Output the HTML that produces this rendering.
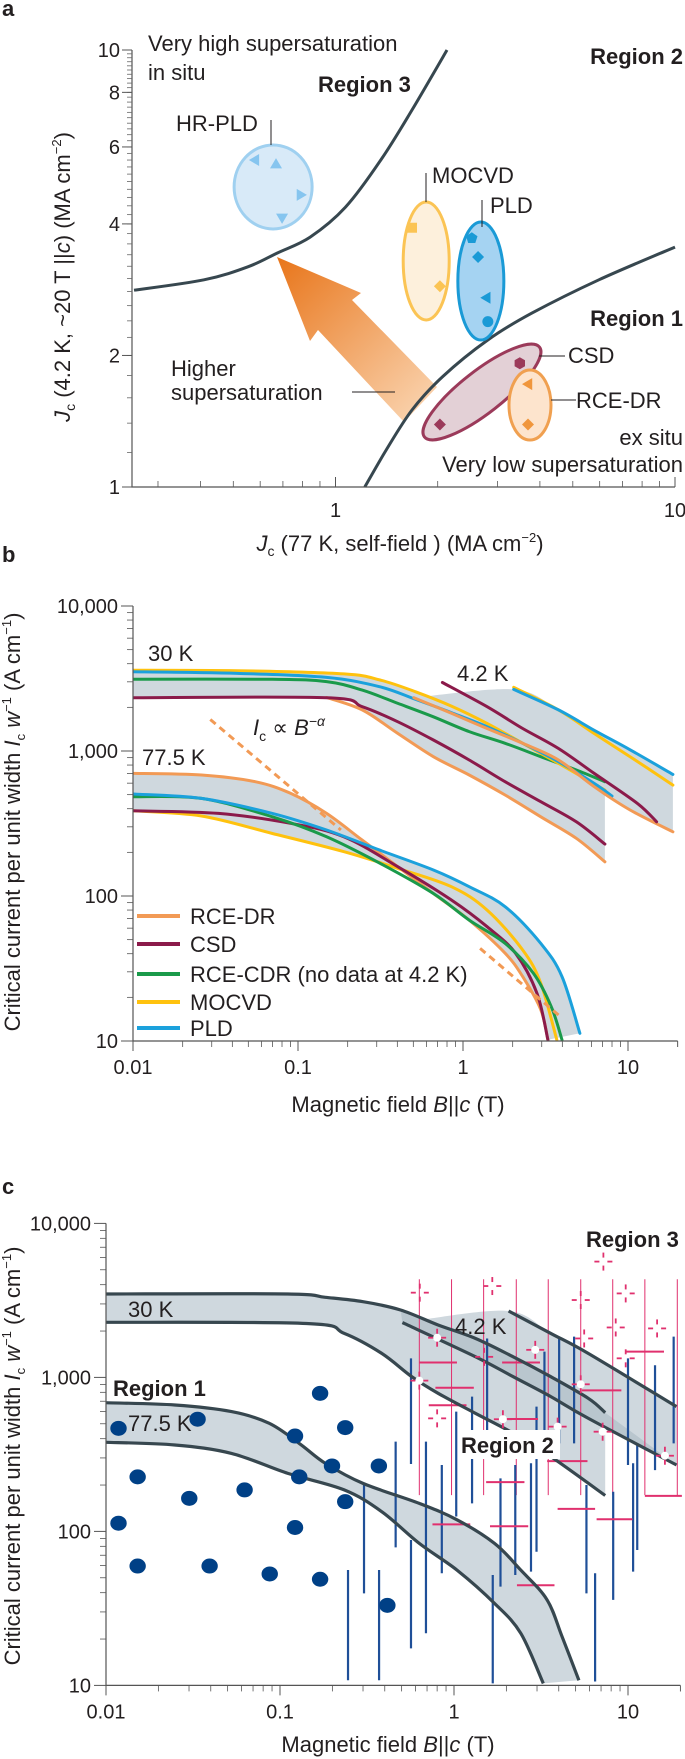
<!DOCTYPE html>
<html><head><meta charset="utf-8"><style>
html,body{margin:0;padding:0;background:#fff;}
svg{display:block;font-family:"Liberation Sans",sans-serif;}
.t{font-size:22px;fill:#231f20;}
.tk{font-size:20px;fill:#231f20;}
.bd{font-weight:bold;}
</style></head><body>
<svg id="fig" width="685" height="1759" viewBox="0 0 685 1759" xmlns="http://www.w3.org/2000/svg">
<defs>
<linearGradient id="arrowGrad" x1="277" y1="257" x2="420" y2="405" gradientUnits="userSpaceOnUse">
<stop offset="0" stop-color="#e8751a"/><stop offset="1" stop-color="#f9cfa8"/></linearGradient>
<clipPath id="clipB"><rect x="133" y="590" width="552" height="451"/></clipPath>
<clipPath id="clipC"><rect x="106" y="1200" width="579" height="486"/></clipPath>
</defs>
<!-- panel labels -->
<text x="2" y="16" class="t bd">a</text>
<text x="2" y="562" class="t bd">b</text>
<text x="2" y="1194" class="t bd">c</text>

<g id="pa"></g>
<g id="pb"></g>
<g id="pc"></g>

<!-- panel a text -->
<text x="148" y="51" class="t">Very high supersaturation</text>
<text x="148" y="80" class="t">in situ</text>
<text x="318" y="92" class="t bd">Region 3</text>
<text x="683" y="64" class="t bd" text-anchor="end">Region 2</text>
<text x="683" y="326" class="t bd" text-anchor="end">Region 1</text>
<text x="176" y="131" class="t">HR-PLD</text>
<text x="432" y="183" class="t">MOCVD</text>
<text x="490" y="213" class="t">PLD</text>
<text x="568" y="363" class="t">CSD</text>
<text x="576" y="408" class="t">RCE-DR</text>
<text x="171" y="376" class="t">Higher</text>
<text x="171" y="400" class="t">supersaturation</text>
<text x="683" y="445" class="t" text-anchor="end">ex situ</text>
<text x="683" y="472" class="t" text-anchor="end">Very low supersaturation</text>
<text x="400" y="551" class="t" text-anchor="middle"><tspan font-style="italic">J</tspan><tspan font-size="14" dy="5">c</tspan><tspan dy="-5"> (77 K, self-field ) (MA cm</tspan><tspan font-size="13" dy="-9">−2</tspan><tspan dy="9">)</tspan></text>
<text transform="translate(70,277) rotate(-90)" class="t" text-anchor="middle"><tspan font-style="italic">J</tspan><tspan font-size="14" dy="5">c</tspan><tspan dy="-5"> (4.2 K, ~20 T ||</tspan><tspan font-style="italic">c</tspan><tspan>) (MA cm</tspan><tspan font-size="13" dy="-9">−2</tspan><tspan dy="9">)</tspan></text>

<!-- panel b text -->
<text x="148" y="661" class="t">30 K</text>
<text x="457" y="681" class="t">4.2 K</text>
<text x="142" y="765" class="t">77.5 K</text>
<text x="253" y="735" class="t" font-style="italic">I<tspan font-size="14" dy="6" font-style="normal">c</tspan><tspan dy="-6" font-style="normal"> ∝ </tspan>B<tspan font-size="14" dy="-9">−α</tspan></text>
<text x="398" y="1112" class="t" text-anchor="middle">Magnetic field <tspan font-style="italic">B</tspan>||<tspan font-style="italic">c</tspan> (T)</text>
<text transform="translate(20,822) rotate(-90)" class="t" font-size="21" text-anchor="middle">Critical current per unit width <tspan font-style="italic">I</tspan><tspan font-size="13" dy="5">c</tspan><tspan dy="-5"> </tspan><tspan font-style="italic">w</tspan><tspan font-size="13" dy="-9">−1</tspan><tspan dy="9"> (A cm</tspan><tspan font-size="13" dy="-9">−1</tspan><tspan dy="9">)</tspan></text>

<!-- panel c text -->
<text x="388" y="1752" class="t" text-anchor="middle">Magnetic field <tspan font-style="italic">B</tspan>||<tspan font-style="italic">c</tspan> (T)</text>
<text transform="translate(20,1456) rotate(-90)" class="t" font-size="21" text-anchor="middle">Critical current per unit width <tspan font-style="italic">I</tspan><tspan font-size="13" dy="5">c</tspan><tspan dy="-5"> </tspan><tspan font-style="italic">w</tspan><tspan font-size="13" dy="-9">−1</tspan><tspan dy="9"> (A cm</tspan><tspan font-size="13" dy="-9">−1</tspan><tspan dy="9">)</tspan></text>
<g id="pctext"></g>
</svg>
<script>
// ---------- Panel a data ----------
const aRegion3Curve = [[0.255,2.82],[0.41,2.98],[0.552,3.19],[0.673,3.43],[0.841,3.73],[1.07,4.37],[1.36,5.6],[1.68,7.29],[2.13,10]];
const aRegion1Curve = [[1.22,1],[1.41,1.215],[1.68,1.5],[2.07,1.79],[2.81,2.17],[3.79,2.5],[5.97,2.98],[10,3.54]];
const aGroupNames = ['hr-pld','mocvd','pld','csd','rce-dr'];
const aGroupCenterX = [0.655,1.85,2.68,2.70,3.74];
const aGroupCenterY = [4.86,3.29,2.96,1.65,1.54];
const aHrPld = [[0.579,5.6],[0.668,5.48],[0.791,4.66],[0.696,4.13]];
const aMocvd = [[1.68,3.92],[2.03,2.88]];
const aPld = [[2.52,3.71],[2.63,3.36],[2.78,2.71],[2.81,2.39]];
const aCsd = [[3.49,1.92],[2.03,1.39]];
const aRce = [[3.69,1.72],[3.69,1.39]];
const aXTicks = ['1','10'];
const aYTicks = ['1','2','4','6','8','10'];

// ---------- Panel b data ----------
const bMocvd30 = [[0.01,3610],[0.043,3580],[0.19,3400],[0.314,3090],[0.516,2560],[0.85,2040],[1.4,1550],[2.3,1130],[3.79,822],[7.24,538]];
const bPld30 = [[0.01,3520],[0.043,3430],[0.149,3220],[0.314,2770],[0.516,2270],[0.85,1840],[1.4,1470],[2.3,1130],[3.79,844],[6.24,598],[8.0,489]];
const bGreen30 = [[0.01,3120],[0.07,3120],[0.149,3010],[0.245,2630],[0.403,2130],[0.662,1720],[1.09,1360],[1.8,1130],[2.96,914],[4.86,740],[7.24,614]];
const bCsd30 = [[0.01,2330],[0.149,2330],[0.245,2020],[0.403,1590],[0.662,1190],[1.09,867],[1.8,614],[2.96,447],[4.86,325],[7.24,228]];
const bRce30 = [[0.149,2340],[0.245,1920],[0.403,1320],[0.662,914],[1.09,683],[1.8,497],[2.96,352],[4.86,250],[7.24,172]];
const bCsd4 = [[0.75,2970],[1.4,2020],[2.3,1430],[3.79,1040],[6.24,701],[11.4,435],[14.9,325]];
const bRce4 = [[0.504,2330],[0.85,1820],[1.4,1430],[2.3,1130],[3.79,867],[6.24,567],[10.3,392],[18.7,277]];
const bMocvd4 = [[2.03,2750],[3.79,1920],[6.24,1320],[10.3,914],[18.7,582]];
const bPld4 = [[2.03,2660],[3.79,1920],[6.24,1390],[10.3,1020],[18.7,690]];
const bRce77 = [[0.01,701],[0.026,683],[0.055,614],[0.09,511],[0.149,371],[0.245,243],[0.403,159],[0.662,104],[1.09,68.2],[1.8,40.3],[2.3,27.8],[2.96,16.4],[3.27,10.2]];
const bPld77 = [[0.01,505],[0.026,471],[0.07,371],[0.149,285],[0.314,207],[0.662,151],[1.09,116],[1.8,84.4],[2.96,47.1],[3.98,27.8],[5.11,11.3]];
const bGreen77 = [[0.01,484],[0.026,471],[0.07,352],[0.149,256],[0.314,168],[0.662,104],[1.09,68.2],[1.8,47.1],[2.67,29.3],[3.43,17.2],[3.98,10.2]];
const bCsd77 = [[0.01,387],[0.033,371],[0.09,317],[0.19,256],[0.403,159],[0.85,93.8],[1.4,61.4],[2.08,40.3],[2.81,21.3],[3.27,10.2]];
const bMocvd77 = [[0.01,387],[0.026,356],[0.07,270],[0.19,202],[0.403,155],[0.85,116],[1.4,80],[2.3,42.4],[2.96,25],[3.7,10.2]];
const bPowerLaw1 = [[0.0294,1650],[0.182,285]];
const bPowerLaw2 = [[1.27,43.5],[3.79,15.1]];
const bXTicks = ['0.01','0.1','1','10'];
const bYTicks = ['10','100','1,000','10,000'];
const legendNames = ['RCE-DR','CSD','RCE-CDR (no data at 4.2 K)','MOCVD','PLD'];

// ---------- Panel c data ----------
const cTop30 = [[0.01,3480],[0.111,3480],[0.182,3310],[0.30,3100],[0.493,2740],[0.81,2190],[1.33,1790],[2.19,1360],[3.60,1010],[5.92,731],[7.40,590]];
const cBot30 = [[0.01,2280],[0.142,2240],[0.234,1930],[0.385,1430],[0.572,1010],[0.81,788],[1.33,584],[2.19,434],[3.60,306],[7.40,171]];
const cLo4 = [[0.505,2270],[1.33,1360],[2.19,1010],[3.60,750],[5.92,542],[19.0,270]];
const cHi4 = [[2.06,2700],[3.60,1930],[5.92,1430],[19.0,646]];
const cTop77 = [[0.01,685],[0.0249,662],[0.0526,600],[0.0865,504],[0.129,373],[0.182,277],[0.30,205],[0.632,152],[1.04,119],[1.71,83.6],[2.42,56.1],[3.43,35.9],[4.18,20.7],[5.22,10.8]];
const cBot77 = [[0.01,379],[0.0249,364],[0.0526,321],[0.111,238],[0.234,186],[0.385,134],[0.632,83.6],[1.04,56.1],[1.71,34.1],[2.42,21.8],[3.26,10.3]];
const cDotB = [0.0118,0.0336,0.0152,0.0301,0.0626,0.0118,0.0152,0.0394,0.0873,0.170,0.170,0.122,0.237,0.199,0.37,0.129,0.237,0.122,0.414];
const cDotIc = [467,535,226,164,186,113,59.6,59.6,52.9,48.9,788,416,472,266,266,226,156,106,33.1];
const cBarB = [0.246,0.304,0.371,0.462,0.566,0.566,0.69,0.851,1.03,1.27,1.55,1.67,1.85,2.25,2.77,2.98,3.31,4.02,4.90,5.77,6.47,8.22,10.0,10.7,11.3,14.3,18.3];
const cBarHi = [56.1,200,56.1,383,1330,87.9,383,270,600,750,1790,52.1,221,270,277,646,1470,1790,1840,200,53.5,181,1330,277,373,1200,1840];
const cBarLo = [10.8,39.6,10.8,78.8,274,17.4,21.8,53.5,125,152,444,10.3,43.8,52.1,54.8,73.8,306,373,373,39.6,10.6,35.9,270,54.8,75.7,250,373];
const cPinkVB = [0.632,0.968,1.48,2.28,3.48,5.35,8.17,12.5,19.2];
const cPinkVHi = [4340,4340,4340,4340,4340,4340,4340,4340,4340];
const cPinkVLo = [172,172,172,172,172,172,172,172,170];
const cPinkHB0 = [0.632,0.782,0.716,0.752,1.53,1.61,1.89,2.01,2.30,3.43,3.94,5.43,6.6,9.7,12.5];
const cPinkHB1 = [1.04,1.30,1.18,1.24,2.54,2.67,3.12,3.04,3.78,5.85,6.47,9.16,10.6,16.1,20.4];
const cPinkHIc = [1250,857,659,111,209,108,1250,537,44.7,286,140,824,120,1470,170];
const cStarOpenB = [0.636,1.66,7.22,5.35,9.7,8.5,14.7,5.6,0.80,9.7,1.49];
const cStarOpenIc = [3550,3920,5650,3180,3510,2110,2080,1790,542,1330,1360];
const cStarFillB = [0.80,2.93,5.35,1.91,3.94,7.15,16.3,0.632];
const cStarFillIc = [1810,1510,902,535,479,444,310,953];
const cXTicks = ['0.01','0.1','1','10'];
const cYTicks = ['10','100','1,000','10,000'];

// ---------- helpers ----------
const NS='http://www.w3.org/2000/svg';
const L=Math.log10;
function mk(tag,attrs,parent){const e=document.createElementNS(NS,tag);for(const k in attrs)e.setAttribute(k,attrs[k]);parent.appendChild(e);return e;}
function smooth(p){if(p.length<3)return 'M'+p.map(q=>q[0].toFixed(1)+','+q[1].toFixed(1)).join('L');let d='M'+p[0][0].toFixed(1)+','+p[0][1].toFixed(1);for(let i=0;i<p.length-1;i++){const p0=p[i-1]||p[i],p1=p[i],p2=p[i+1],p3=p[i+2]||p2;const c1=[p1[0]+(p2[0]-p0[0])/6,p1[1]+(p2[1]-p0[1])/6],c2=[p2[0]-(p3[0]-p1[0])/6,p2[1]-(p3[1]-p1[1])/6];d+='C'+c1[0].toFixed(1)+','+c1[1].toFixed(1)+' '+c2[0].toFixed(1)+','+c2[1].toFixed(1)+' '+p2[0].toFixed(1)+','+p2[1].toFixed(1);}return d;}
function ptsPath(p){return 'M'+p.map(q=>q[0].toFixed(1)+','+q[1].toFixed(1)).join('L');}

// axes
const ax=J=>335.5+339.5*L(J), ay=J=>487-437*L(J);
const bx=B=>133+165*(L(B)+2), by=v=>606+145*(4-L(v));
const cx=B=>106+174*(L(B)+2), cy=v=>1223.4+154*(4-L(v));

// ============ PANEL A ============
const pa=document.getElementById('pa');
let e;
// arrow
e=mk('polygon',{points:'277,257 361,293 352,300 437,387 404,422 318,330 310,341',fill:'url(#arrowGrad)'},pa);


// boundary curves
e=mk('path',{d:smooth(aRegion3Curve.map(q=>[ax(q[0]),ay(q[1])])),fill:'none',stroke:'#37474f','stroke-width':3},pa);


e=mk('path',{d:smooth(aRegion1Curve.map(q=>[ax(q[0]),ay(q[1])])),fill:'none',stroke:'#37474f','stroke-width':3},pa);


// ellipses
const ellStyle=[{rx:39,ry:42,rot:0,f:'#d8eaf8',s:'#9fd0f0'},{rx:23,ry:59,rot:0,f:'#fdf0dc',s:'#fbc454'},{rx:23,ry:59,rot:0,f:'#a5d3f2',s:'#1a9ad6'},{rx:73,ry:21,rot:-38,f:'#e3d0d6',s:'#9b3a5a'},{rx:21,ry:35,rot:0,f:'#fde4cd',s:'#f0a050'}];
for(let i=0;i<aGroupNames.length;i++){const X=ax(aGroupCenterX[i]),Y=ay(aGroupCenterY[i]),s=ellStyle[i];
e=mk('ellipse',{cx:X,cy:Y,rx:s.rx,ry:s.ry,fill:s.f,stroke:s.s,'stroke-width':3,transform:'rotate('+s.rot+' '+X+' '+Y+')'},pa);

}
// markers
function marker(parent,shape,X,Y,col){let d;const r=6;
if(shape==='tu')d=`M${X},${Y-r}L${X+r},${Y+r*0.7}L${X-r},${Y+r*0.7}Z`;
else if(shape==='td')d=`M${X},${Y+r}L${X+r},${Y-r*0.7}L${X-r},${Y-r*0.7}Z`;
else if(shape==='tl')d=`M${X-r},${Y}L${X+r*0.7},${Y-r}L${X+r*0.7},${Y+r}Z`;
else if(shape==='tr')d=`M${X+r},${Y}L${X-r*0.7},${Y-r}L${X-r*0.7},${Y+r}Z`;
else if(shape==='dia')d=`M${X},${Y-r}L${X+r},${Y}L${X},${Y+r}L${X-r},${Y}Z`;
else if(shape==='sq')d=`M${X-5},${Y-5}h10v10h-10Z`;
else {let s='';const n=shape==='pent'?5:6;for(let k=0;k<n;k++){const a=-Math.PI/2+k*2*Math.PI/n;s+=(k?'L':'M')+(X+r*Math.cos(a)).toFixed(1)+','+(Y+r*Math.sin(a)).toFixed(1);}d=s+'Z';}
if(shape==='circ'){return mk('circle',{cx:X,cy:Y,r:5.5,fill:col},parent);}
return mk('path',{d:d,fill:col},parent);}
const aSets=[[aHrPld,['tl','tu','tr','td'],'#86c5ef','hr-pld'],[aMocvd,['sq','dia'],'#fbc454','mocvd'],[aPld,['pent','dia','tl','circ'],'#1a9ad6','pld'],[aCsd,['hex','dia'],'#9b3a5a','csd'],[aRce,['tl','dia'],'#f0963c','rce-dr']];
for(const st of aSets){for(let i=0;i<st[0].length;i++){e=marker(pa,st[1][i],ax(st[0][i][0]),ay(st[0][i][1]),st[2]);

}}
// leaders
const leaders=[[271,120,271,145],[426,173,426,202],[482,200,482,227],[539,356,565,356],[551,400,576,400],[352,392,395,392]];
for(const l of leaders){e=mk('line',{x1:l[0],y1:l[1],x2:l[2],y2:l[3],stroke:'#231f20','stroke-width':1},pa);

}
// axes a
e=mk('path',{d:'M132,50V487H675',fill:'none',stroke:'#555','stroke-width':1.2},pa);


for(let v=1.2;v<10;v+=0.2){e=mk('line',{x1:127,x2:132,y1:ay(v),y2:ay(v),stroke:'#666','stroke-width':0.8},pa);

}
for(const t of aYTicks){const Y=ay(parseFloat(t));
e=mk('line',{x1:122,x2:132,y1:Y,y2:Y,stroke:'#555','stroke-width':1},pa);


e=mk('text',{x:120,y:Y+7,'text-anchor':'end',class:'tk'},pa);e.textContent=t;

}
for(const m of [0.3,0.4,0.5,0.6,0.7,0.8,0.9,2,3,4,5,6,7,8,9]){e=mk('line',{x1:ax(m),x2:ax(m),y1:481,y2:487,stroke:'#555','stroke-width':0.8},pa);

}
for(const t of aXTicks){const X=ax(parseFloat(t));
e=mk('line',{x1:X,x2:X,y1:477,y2:487,stroke:'#555','stroke-width':1},pa);


e=mk('text',{x:X,y:517,'text-anchor':'middle',class:'tk'},pa);e.textContent=t;

}

// ============ generic log axes for b,c ============
function logAxes(g,X,Y,x0,x1,y0,y1,xt,yt,nm){
 e=mk('path',{d:`M${X(x0)},${Y(y1)}V${Y(y0)}H${X(x1)}`,fill:'none',stroke:'#555','stroke-width':1.2},g);
 
 
 for(let d=0.01;d<20;d*=10){for(let k=2;k<10;k++){const v=d*k;if(v>x1)break;e=mk('line',{x1:X(v),x2:X(v),y1:Y(y0),y2:Y(y0)+6,stroke:'#555','stroke-width':0.8},g);
 
 }}
 e=mk('line',{x1:X(x1),x2:X(x1),y1:Y(y0),y2:Y(y0)+6,stroke:'#555','stroke-width':0.8},g);
 
 
 for(let d=10;d<10000;d*=10){for(let k=2;k<10;k++){e=mk('line',{x1:X(x0)-6,x2:X(x0),y1:Y(d*k),y2:Y(d*k),stroke:'#555','stroke-width':0.8},g);
 
 }}
 for(const t of xt){const v=parseFloat(t),Xp=X(v);
 e=mk('line',{x1:Xp,x2:Xp,y1:Y(y0),y2:Y(y0)+10,stroke:'#555','stroke-width':1},g);
 
 
 e=mk('text',{x:Xp,y:Y(y0)+33,'text-anchor':'middle',class:'tk'},g);e.textContent=t;
 
 }
 for(const t of yt){const v=parseFloat(t.replace(/,/g,'')),Yp=Y(v);
 e=mk('line',{x1:X(x0)-12,x2:X(x0),y1:Yp,y2:Yp,stroke:'#555','stroke-width':1},g);
 
 
 e=mk('text',{x:X(x0)-15,y:Yp+7,'text-anchor':'end',class:'tk'},g);e.textContent=t;
 
 }
}

// ============ PANEL B ============
const pb=document.getElementById('pb');
const gb=mk('g',{'clip-path':'url(#clipB)'},pb);


const P=(arr,X,Y)=>arr.map(q=>[X(q[0]),Y(q[1])]);
const band='#cfd8de';
function bandPath(g,top,bot,name,X,Y){const t=P(top,X,Y),b=P(bot,X,Y).reverse();
 e=mk('path',{d:smooth(t)+'L'+smooth(b).slice(1)+'Z',fill:band,stroke:'none'},g);
 
 }
bandPath(gb,bMocvd30,[bCsd30[0],bCsd30[1]].concat(bRce30.slice(1)),'band-30k',bx,by);
bandPath(gb,[bRce4[0]].concat(bPld4),bRce4,'band-4-2k',bx,by);
bandPath(gb,bRce77.slice(0,6).concat(bPld77.slice(4)),bMocvd77.slice(0,5).concat(bRce77.slice(7)),'band-77-5k',bx,by);
const cols={rce:'#f29a55',csd:'#8b1a4a',green:'#1a9a4a',mocvd:'#ffc20e',pld:'#1ba1dc'};
const bSeries=[[bRce30,'rce','rce-dr-30k'],[bCsd30,'csd','csd-30k'],[bGreen30,'green','rce-cdr-30k'],[bMocvd30,'mocvd','mocvd-30k'],[bPld30,'pld','pld-30k'],
[bRce4,'rce','rce-dr-4-2k'],[bCsd4,'csd','csd-4-2k'],[bMocvd4,'mocvd','mocvd-4-2k'],[bPld4,'pld','pld-4-2k'],
[bRce77,'rce','rce-dr-77-5k'],[bMocvd77,'mocvd','mocvd-77-5k'],[bCsd77,'csd','csd-77-5k'],[bGreen77,'green','rce-cdr-77-5k'],[bPld77,'pld','pld-77-5k']];
for(const s of bSeries){e=mk('path',{d:smooth(P(s[0],bx,by)),fill:'none',stroke:cols[s[1]],'stroke-width':3,'stroke-linecap':'round'},gb);

}
for(const pl of [bPowerLaw1,bPowerLaw2]){e=mk('path',{d:ptsPath(P(pl,bx,by)),fill:'none',stroke:cols.rce,'stroke-width':3,'stroke-dasharray':'7,5'},gb);

}
// legend
const legCols=[cols.rce,cols.csd,cols.green,cols.mocvd,cols.pld];
const legY=[916,944,974,1002,1028];
for(let i=0;i<legendNames.length;i++){
e=mk('line',{x1:137,x2:180,y1:legY[i],y2:legY[i],stroke:legCols[i],'stroke-width':4},pb);


e=mk('text',{x:190,y:legY[i]+8,class:'t'},pb);e.textContent=legendNames[i];

}
logAxes(pb,bx,by,0.01,20,10,10000,bXTicks,bYTicks,'b');

// ============ PANEL C ============
const pc=document.getElementById('pc');
const gc=mk('g',{'clip-path':'url(#clipC)'},pc);


bandPath(gc,cTop30,cBot30,'band-30k-c',cx,cy);
bandPath(gc,[[0.632,2360]].concat(cHi4),cLo4.slice(1),'band-4-2k-c',cx,cy);
e=mk('path',{d:smooth(P(cLo4,cx,cy))+'L'+smooth(P(cTop30.slice(4),cx,cy).reverse()).slice(1)+'Z',fill:'#b9c6ce'},gc);


bandPath(gc,cTop77,cBot77,'band-77-5k-c',cx,cy);
// pink verticals
for(let i=0;i<cPinkVB.length;i++){e=mk('line',{x1:cx(cPinkVB[i]),x2:cx(cPinkVB[i]),y1:cy(cPinkVHi[i]),y2:cy(cPinkVLo[i]),stroke:'#e0306e','stroke-width':1},gc);

}
// blue bars
for(let i=0;i<cBarB.length;i++){e=mk('line',{x1:cx(cBarB[i]),x2:cx(cBarB[i]),y1:cy(cBarHi[i]),y2:cy(cBarLo[i]),stroke:'#1f4f98','stroke-width':2.2},gc);

}
// pink horizontals
for(let i=0;i<cPinkHIc.length;i++){e=mk('line',{x1:cx(cPinkHB0[i]),x2:cx(cPinkHB1[i]),y1:cy(cPinkHIc[i]),y2:cy(cPinkHIc[i]),stroke:'#e0306e','stroke-width':2},gc);

}
// curves
for(const s of [[cTop30,'30k-upper'],[cBot30,'30k-lower'],[cLo4,'4-2k-lower'],[cHi4,'4-2k-upper'],[cTop77,'77-5k-upper'],[cBot77,'77-5k-lower']]){
e=mk('path',{d:smooth(P(s[0],cx,cy)),fill:'none',stroke:'#37474f','stroke-width':3.2},gc);

}
// sparkles
function star(X,Y,filled){const g=mk('g',{},gc);
if(filled){mk('circle',{cx:X,cy:Y,r:4,fill:'#fff'},g);}
const segs=[[X-9,Y,X-4,Y],[X+4,Y,X+9,Y],[X,Y-9,X,Y-4],[X,Y+4,X,Y+9]];
for(const s of segs)mk('line',{x1:s[0],y1:s[1],x2:s[2],y2:s[3],stroke:'#e0306e','stroke-width':1.8},g);return g;}
for(let i=0;i<cStarOpenB.length;i++){e=star(cx(cStarOpenB[i]),cy(cStarOpenIc[i]),false);

}
for(let i=0;i<cStarFillB.length;i++){e=star(cx(cStarFillB[i]),cy(cStarFillIc[i]),true);

}
// dots
for(let i=0;i<cDotB.length;i++){e=mk('ellipse',{cx:cx(cDotB[i]),cy:cy(cDotIc[i]),rx:8.2,ry:7.5,fill:'#004086'},gc);

}
logAxes(pc,cx,cy,0.01,20,10,10000,cXTicks,cYTicks,'c');
// panel c labels
const ct=document.getElementById('pctext');
e=mk('rect',{x:458,y:1430,width:102,height:29,fill:'#fff'},ct);


const cLabels=[['Region 3',586,1247,true,'region-3-label-c'],['Region 1',113,1396,true,'region-1-label-c'],['Region 2',461,1453,true,'region-2-label-c'],['30 K',128,1317,false,'label-30k-c'],['4.2 K',455,1334,false,'label-4-2k-c'],['77.5 K',128,1431,false,'label-77-5k-c']];
for(const l of cLabels){e=mk('text',{x:l[1],y:l[2],class:l[3]?'t bd':'t'},ct);e.textContent=l[0];

}
</script>
</body></html>
